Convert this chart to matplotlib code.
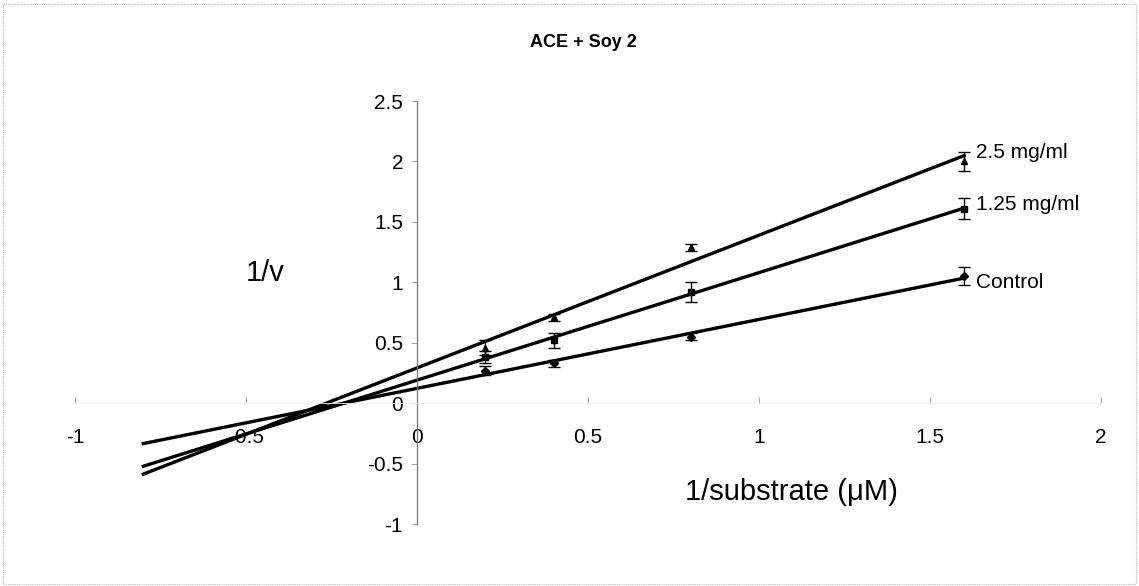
import numpy as np
import matplotlib.pyplot as plt
from matplotlib.patches import Rectangle

plt.rcParams['font.family'] = ['Liberation Sans', 'DejaVu Sans']

# reciprocal substrate concentration (1/uM)
inv_s = [0.2, 0.4, 0.8, 1.6]

# mean 1/v and error for each treatment
control = [0.27, 0.33, 0.55, 1.05]
control_err = [0.04, 0.03, 0.03, 0.075]
soy_125 = [0.38, 0.52, 0.92, 1.61]
soy_125_err = [0.05, 0.06, 0.08, 0.085]
soy_25 = [0.46, 0.71, 1.29, 2.00]
soy_25_err = [0.06, 0.03, 0.03, 0.08]

series = [
    ('Control', control, control_err, 'D'),
    ('1.25 mg/ml', soy_125, soy_125_err, 's'),
    ('2.5 mg/ml', soy_25, soy_25_err, '^'),
]
label_y = {'Control': 1.0, '1.25 mg/ml': 1.64, '2.5 mg/ml': 2.07}

fig = plt.figure(figsize=(11.39, 5.86), dpi=100)
ax = fig.add_axes([0.0658, 0.1058, 0.9008, 0.7218])

x_fit = np.array([-0.8, 1.6])
for name, y, err, mk in series:
    ax.errorbar(inv_s, y, yerr=err, fmt=mk, color='black', ms=4.5,
                capsize=4, elinewidth=1, capthick=1, zorder=3)
    # least squares trendline extended back past the x intercept
    slope, icpt = np.polyfit(inv_s, y, 1)
    ax.plot(x_fit, slope * x_fit + icpt, color='black', lw=2.4, zorder=2)
    ax.text(1.635, label_y[name], name, fontsize=15, va='center', ha='left')

ax.set_xlim(-1, 2)
ax.set_ylim(-1, 2.5)
ax.set_xticks([-1, -0.5, 0, 0.5, 1, 1.5, 2])
ax.set_xticklabels(['-1', '-0.5', '0', '0.5', '1', '1.5', '2'])
ax.set_yticks([-1, -0.5, 0, 0.5, 1, 1.5, 2, 2.5])
ax.set_yticklabels(['-1', '-0.5', '0', '0.5', '1', '1.5', '2', '2.5'])

ax.spines['top'].set_visible(False)
ax.spines['right'].set_visible(False)
ax.spines['left'].set_position(('data', 0))
ax.spines['bottom'].set_position(('data', 0))
ax.spines['left'].set_color('#777777')
ax.spines['left'].set_linestyle((0, (1, 1)))
ax.spines['left'].set_linewidth(0.9)
ax.spines['bottom'].set_color('#ececec')
ax.spines['bottom'].set_linewidth(0.6)

ax.tick_params(axis='x', direction='in', length=4, width=0.6, color='#999999',
               pad=18, labelsize=15)
ax.tick_params(axis='y', direction='out', length=4, width=0.6, color='#999999',
               pad=6, labelsize=15)
ax.patch.set_visible(False)

ax.text(-0.445, 1.08, '1/v', fontsize=21, ha='center', va='center')
ax.text(1.095, -0.735, '1/substrate (\u03bcM)', fontsize=21, ha='center', va='center')

fig.text(0.512, 0.928, 'ACE + Soy 2', fontsize=13, fontweight='bold',
         ha='center', va='center')

# faint frame around the chart area
fig.patches.append(Rectangle((0.003, 0.004), 0.994, 0.99, transform=fig.transFigure,
                             fill=False, ec='#bbbbbb', lw=0.8, ls=(0, (1, 1))))

fig.savefig('out.png', dpi=100)
